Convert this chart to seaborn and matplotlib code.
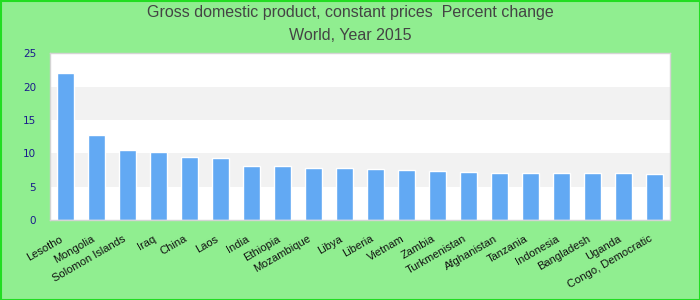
import matplotlib
matplotlib.use("Agg")
import matplotlib.pyplot as plt
import matplotlib.transforms as mtransforms
import seaborn as sns
import pandas as pd
from matplotlib.patches import Rectangle

countries = ["Lesotho", "Mongolia", "Solomon Islands", "Iraq", "China", "Laos", "India",
             "Ethiopia", "Mozambique", "Libya", "Liberia", "Vietnam", "Zambia",
             "Turkmenistan", "Afghanistan", "Tanzania", "Indonesia", "Bangladesh",
             "Uganda", "Congo, Democratic"]
values = [22.05, 12.75, 10.5, 10.2, 9.45, 9.3, 8.1, 8.1, 7.8, 7.8, 7.65, 7.5, 7.35,
          7.2, 7.05, 7.05, 7.05, 7.05, 7.05, 6.9]
yticks = [0, 5, 10, 15, 20, 25]
title_lines = ["Gross domestic product, constant prices  Percent change", "World, Year 2015"]

df = pd.DataFrame({"country": countries, "value": values})

sns.set_theme(style="white")
plt.rcParams["font.family"] = ["Liberation Sans", "DejaVu Sans"]

fig = plt.figure(figsize=(7, 3), dpi=100, facecolor="#90EE90")
ax = fig.add_axes([50 / 700, 1 - 220 / 300, 620 / 700, (220 - 53.3) / 300])
ax.set_facecolor("white")

for lo in (5, 15):
    ax.axhspan(lo, lo + 5, color="#F2F2F2", zorder=0, lw=0)

sns.barplot(data=df, x="country", y="value", color="#62A9F3", width=0.55,
            saturation=1, ax=ax, zorder=2)

ax.set_ylim(0, 25)
ax.set_xlim(-0.5, len(countries) - 0.5)
ax.set_yticks(yticks)
ax.set_yticklabels([str(t) for t in yticks], color="#1A1A8C", fontsize=7.5,
                   family="DejaVu Sans")
ax.tick_params(axis="y", length=0, pad=10)
ax.tick_params(axis="x", length=0, pad=13)
ax.set_xticks(range(len(countries)))
ax.set_xticklabels(countries, rotation=30, ha="right", va="center",
                   rotation_mode="anchor", fontsize=8, color="#111111")
offset = mtransforms.ScaledTranslation(-3 / 100, 0, fig.dpi_scale_trans)
for lbl in ax.get_xticklabels():
    lbl.set_transform(lbl.get_transform() + offset)
ax.set_xlabel("")
ax.set_ylabel("")
for s in ax.spines.values():
    s.set_color("#D4D4D4")
    s.set_linewidth(1)

fig.text(0.5, 1 - 13 / 300, title_lines[0], ha="center", va="center",
         fontsize=11.5, color="#444444")
fig.text(0.5, 1 - 36 / 300, title_lines[1], ha="center", va="center",
         fontsize=11.5, color="#444444")

fig.patches.append(Rectangle((0.5 / 700, 0.5 / 300), 1 - 1 / 700, 1 - 1 / 300,
                             transform=fig.transFigure, fill=False,
                             edgecolor="#22DD22", lw=1.5))

fig.savefig("out.png", dpi=100, facecolor=fig.get_facecolor())
